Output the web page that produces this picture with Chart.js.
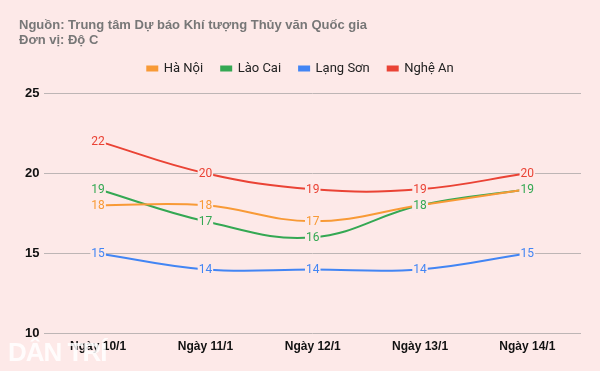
<!DOCTYPE html>
<html>
<head>
<meta charset="utf-8">
<script src="https://cdn.jsdelivr.net/npm/chart.js@4"></script>
<style>
  html, body { margin: 0; padding: 0; background: #fde9e8; }
  #wrap { position: relative; width: 600px; height: 371px; background: #fde9e8; }
  #head { position: absolute; left: 19px; top: 17px; font: bold 13px "Liberation Sans", Arial, sans-serif; color: #777; line-height: 15px; }
  #mark { position: absolute; left: 8px; top: 337px; font: bold 26px "Liberation Sans Narrow", "Liberation Sans", sans-serif; color: rgba(255,255,255,0.85); letter-spacing: -1px; }
  canvas { position: absolute; left: 0; top: 0; }
</style>
</head>
<body>
<div id="wrap">
  <canvas id="tempChart" width="600" height="371"></canvas>
  <div id="head">Nguồn: Trung tâm Dự báo Khí tượng Thủy văn Quốc gia<br>Đơn vị: Độ C</div>
  <div id="mark">DÂN TRÍ</div>
</div>
<script>
const days = ["Ngày 10/1", "Ngày 11/1", "Ngày 12/1", "Ngày 13/1", "Ngày 14/1"];
const haNoi = [18, 18, 17, 18, 19];
const laoCai = [19, 17, 16, 18, 19];
const langSon = [15, 14, 14, 14, 15];
const ngheAn = [22, 20, 19, 19, 20];
const yTicks = [10, 15, 20, 25];

const bg = "#fde9e8";

// value labels sitting on the points, with a patch of background behind them
const pointLabels = {
  id: "pointLabels",
  afterDatasetsDraw(chart) {
    const ctx = chart.ctx;
    ctx.save();
    ctx.font = "12px Roboto, sans-serif";
    ctx.textAlign = "center";
    ctx.textBaseline = "middle";
    chart.data.datasets.forEach((ds, i) => {
      const meta = chart.getDatasetMeta(i);
      meta.data.forEach((pt, j) => {
        const txt = String(ds.data[j]);
        const w = ctx.measureText(txt).width;
        ctx.fillStyle = bg;
        ctx.fillRect(pt.x - w / 2 - 1, pt.y - 6, w + 2, 12);
        ctx.fillStyle = ds.borderColor;
        ctx.fillText(txt, pt.x, pt.y + 1);
      });
    });
    ctx.restore();
  }
};

const legendGap = {
  id: "legendGap",
  beforeInit(chart) {
    const fit = chart.legend.fit;
    chart.legend.fit = function () {
      fit.bind(chart.legend)();
      this.height += 8;
    };
  }
};

function line(label, data, color) {
  return {
    label: label,
    data: data,
    borderColor: color,
    backgroundColor: color,
    borderWidth: 2,
    pointRadius: 0,
    tension: 0.4,
    fill: false
  };
}

new Chart(document.getElementById("tempChart"), {
  type: "line",
  data: {
    labels: days,
    datasets: [
      line("Hà Nội", haNoi, "#f89a36"),
      line("Lào Cai", laoCai, "#34a853"),
      line("Lạng Sơn", langSon, "#4285f4"),
      line("Nghệ An", ngheAn, "#ea4335")
    ]
  },
  plugins: [pointLabels, legendGap],
  options: {
    responsive: false,
    animation: false,
    layout: { padding: { top: 44, left: 20, right: 19, bottom: 11 } },
    plugins: {
      legend: {
        labels: {
          boxWidth: 10,
          boxHeight: 4,
          padding: 18,
          color: "#222",
          font: { family: "Roboto, sans-serif", size: 13 }
        }
      },
      tooltip: { enabled: false }
    },
    scales: {
      x: {
        offset: true,
        grid: { display: false, drawTicks: false },
        border: { display: false },
        ticks: {
          padding: 6,
          color: "#111",
          font: { family: "Liberation Sans, Arial, sans-serif", size: 12, weight: "bold" }
        }
      },
      y: {
        min: 10,
        max: 25,
        afterBuildTicks(axis) { axis.ticks = yTicks.map(v => ({ value: v })); },
        grid: { color: "#bdb5b5", drawTicks: false },
        border: { display: false },
        ticks: {
          padding: 5,
          color: "#111",
          font: { family: "Liberation Sans, Arial, sans-serif", size: 13, weight: "bold" }
        }
      }
    }
  }
});
</script>
</body>
</html>
